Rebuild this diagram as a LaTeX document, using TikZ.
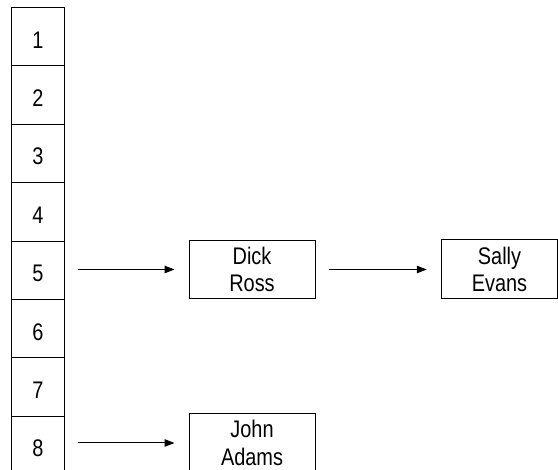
\documentclass[tikz,border=0pt]{standalone}
\usepackage{fontspec}
\setmainfont{Liberation Sans}[FakeStretch=0.83]
\usetikzlibrary{arrows.meta}
\begin{document}
\begin{tikzpicture}[x=1pt,y=-1pt,
  every node/.style={font=\fontsize{24}{27.4}\selectfont},
  cell/.style={draw, line width=1pt, minimum width=53pt, minimum height=58.4pt,
    inner sep=0pt, anchor=north west, text height=23pt, text depth=0pt},
  rec/.style={draw, line width=1pt, minimum width=126pt, minimum height=58pt,
    inner sep=0pt, align=center},
  link/.style={line width=1pt, -{Triangle[length=10pt,width=7.5pt]},
    shorten <=13pt, shorten >=14pt}]
\useasboundingbox (0,0) rectangle (558,470);
\clip (0,0) rectangle (558,470);
\foreach \i in {1,...,8}{
  \node[cell] (c\i) at (11,{7+58.4*(\i-1)}) {\i};
}
\node[rec] (dr) at (252,269.5) {Dick\\Ross};
\node[rec, minimum width=116.5pt, minimum height=59pt] (se) at (499.5,269.5) {Sally\\Evans};
\node[rec] (ja) at (252,443) {John\\Adams};
\draw[link] (c5.east |- dr.west) -- (dr.west);
\draw[link] (dr.east) -- (se.west);
\draw[link] (c8.east |- ja.west) -- (ja.west);
\end{tikzpicture}
\end{document}
